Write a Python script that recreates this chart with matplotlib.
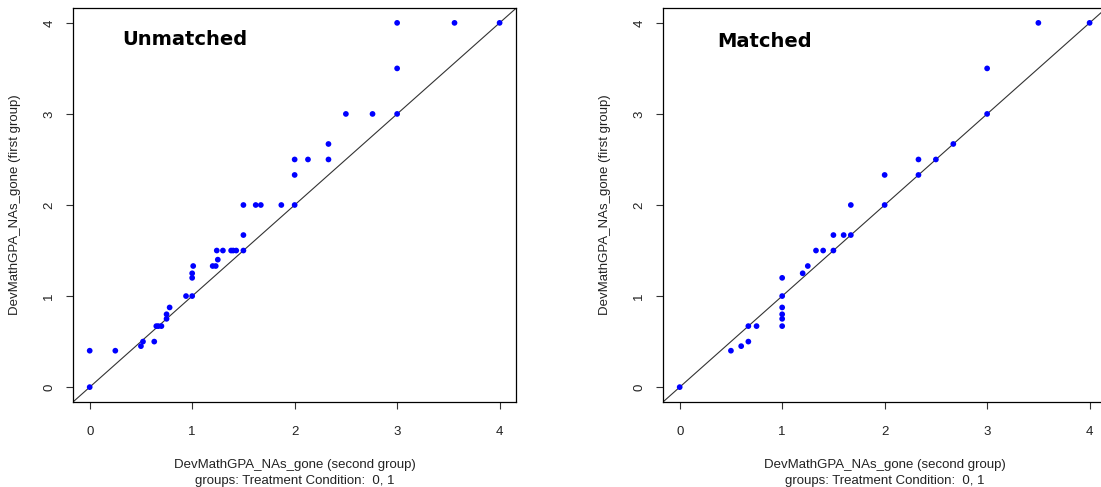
import matplotlib.pyplot as plt

plt.rcParams['font.family'] = ['Liberation Sans', 'DejaVu Sans']

# quantiles of DevMathGPA_NAs_gone, treatment 0 (x) vs treatment 1 (y)
unmatched_x = [0, 0, 0.25, 0.5, 0.52, 0.63, 0.65, 0.67, 0.7, 0.75, 0.75, 0.78,
               0.94, 1, 1, 1, 1.01, 1.2, 1.23, 1.25, 1.24, 1.3, 1.38, 1.4, 1.43,
               1.5, 1.5, 1.5, 1.62, 1.67, 1.87, 2, 2, 2, 2.13, 2.33, 2.33,
               2.5, 2.76, 3, 3, 3, 3.56, 4]
unmatched_y = [0, 0.4, 0.4, 0.45, 0.5, 0.5, 0.67, 0.67, 0.67, 0.75, 0.8, 0.875,
               1, 1, 1.2, 1.25, 1.33, 1.33, 1.33, 1.4, 1.5, 1.5, 1.5, 1.5, 1.5,
               1.5, 1.67, 2, 2, 2, 2, 2, 2.33, 2.5, 2.5, 2.5, 2.67,
               3, 3, 3, 3.5, 4, 4, 4]

matched_x = [0, 0.5, 0.6, 0.67, 0.67, 0.75, 1, 1, 1, 1, 1, 1, 1.2, 1.25,
             1.33, 1.4, 1.5, 1.5, 1.6, 1.67, 1.67, 2, 2, 2.33, 2.33, 2.5,
             2.67, 3, 3, 3.5, 4]
matched_y = [0, 0.4, 0.45, 0.5, 0.67, 0.67, 0.67, 0.75, 0.8, 0.875, 1, 1.2, 1.25, 1.33,
             1.5, 1.5, 1.5, 1.67, 1.67, 1.67, 2, 2, 2.33, 2.33, 2.5, 2.5,
             2.67, 3, 3.5, 4, 4]

ticks = [0, 1, 2, 3, 4]
xlab = "DevMathGPA_NAs_gone (second group)"
sublab = "groups: Treatment Condition:  0, 1"
ylab = "DevMathGPA_NAs_gone (first group)"

W, H = 1101, 487
fig = plt.figure(figsize=(W / 100, H / 100), dpi=100)

# plot regions in pixels: left edge, width, bottom, height
aw, ab, ah = 442.7, 401.7, 393.4
panels = [
    (73.3, unmatched_x, unmatched_y, "Unmatched", (0.93, 3.82)),
    (663.3, matched_x, matched_y, "Matched", (0.83, 3.79)),
]
txtc = '#222222'

for left, qx, qy, title, tpos in panels:
    ax = fig.add_axes([left / W, (H - ab) / H, aw / W, ah / H])
    ax.axline((0, 0), slope=1, color='#333333', lw=0.8, zorder=1)
    ax.scatter(qx, qy, s=17, color='#0000ff', edgecolors='none', zorder=2)
    ax.set_xlim(-0.16, 4.16)
    ax.set_ylim(-0.16, 4.16)
    ax.set_xticks(ticks)
    ax.set_yticks(ticks)
    ax.tick_params(direction='out', length=5, width=0.8, color='#333333',
                   labelsize=9.5, labelcolor=txtc)
    ax.tick_params(axis='x', pad=12.5)
    ax.tick_params(axis='y', pad=8)
    for lab in ax.get_yticklabels():
        lab.set_rotation(90)
        lab.set_va('center')
    for sp in ax.spines.values():
        sp.set_linewidth(0.9)
        sp.set_color('black')
    ax.text(tpos[0], tpos[1], title, fontsize=14, fontweight='bold',
            family='DejaVu Sans', ha='center', va='center')
    ax.text(0.5, (ab - 468) / ah, xlab, transform=ax.transAxes,
            ha='center', va='baseline', fontsize=9.5, color=txtc)
    ax.text(0.5, (ab - 484) / ah, sublab, transform=ax.transAxes,
            ha='center', va='baseline', fontsize=9.5, color=txtc)
    ax.text(-58.3 / aw, 0.5, ylab, transform=ax.transAxes, rotation=90,
            ha='center', va='center', fontsize=9.5, color=txtc)

fig.savefig('out.png', dpi=100)
